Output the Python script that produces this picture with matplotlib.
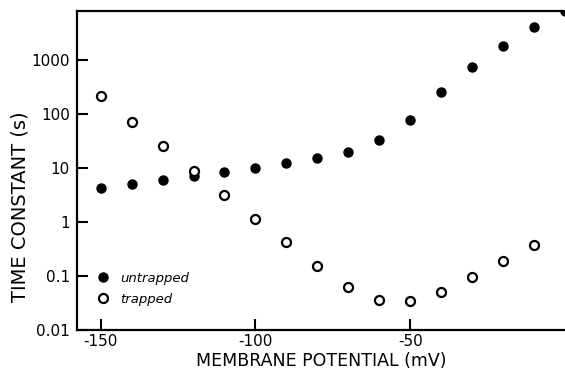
import numpy as np
import matplotlib.pyplot as plt
from matplotlib.ticker import FixedLocator, NullLocator

# membrane potential (mV)
v_untrapped = [-150, -140, -130, -120, -110, -100, -90, -80, -70, -60, -50, -40, -30, -20, -10, 0]
tau_untrapped = [4.3, 5.0, 6.1, 7.1, 8.4, 10.1, 12.5, 15, 20, 33, 78, 250, 740, 1850, 4000, 8000]

v_trapped = [-150, -140, -130, -120, -110, -100, -90, -80, -70, -60, -50, -40, -30, -20, -10]
tau_trapped = [215, 70, 25, 8.7, 3.1, 1.15, 0.42, 0.15, 0.063, 0.036, 0.034, 0.051, 0.095, 0.19, 0.37]

y_ticks = [0.01, 0.1, 1, 10, 100, 1000]
y_labels = ['0.01', '0.1', '1', '10', '100', '1000']
x_ticks = [-150, -100, -50]
x_labels = ['-150', '-100', '-50']

plt.rcParams['font.family'] = ['DejaVu Sans']

fig = plt.figure(figsize=(5.65, 3.72), dpi=100)
ax = fig.add_axes([0.136, 0.113, 0.864, 0.857])

ax.plot(v_untrapped, tau_untrapped, 'o', color='black', markersize=6.5,
        linestyle='none', label='untrapped', clip_on=True)
ax.plot(v_trapped, tau_trapped, 'o', markerfacecolor='white', markeredgecolor='black',
        markeredgewidth=1.6, markersize=6.5, linestyle='none', label='trapped')

ax.set_yscale('log')
ax.set_xlim(-157.7, 0)
ax.set_ylim(0.01, 8000)
ax.yaxis.set_major_locator(FixedLocator(y_ticks))
ax.yaxis.set_minor_locator(NullLocator())
ax.set_yticklabels(y_labels)
ax.set_xticks(x_ticks)
ax.set_xticklabels(x_labels)
ax.tick_params(direction='in', length=8, width=1.5, labelsize=11)
ax.tick_params(axis='x', pad=3)
ax.tick_params(axis='y', pad=5)

for side in ['left', 'bottom', 'top']:
    ax.spines[side].set_linewidth(1.6)
ax.spines['right'].set_visible(False)

ax.set_xlabel('MEMBRANE POTENTIAL (mV)', fontsize=12.5, labelpad=2)
ax.set_ylabel('TIME CONSTANT (s)', fontsize=14)
ax.yaxis.set_label_coords(-0.098, 0.386)

leg = ax.legend(loc='lower left', bbox_to_anchor=(0.03, 0.06), frameon=False,
                handletextpad=0.8, borderaxespad=0.0, labelspacing=0.6,
                prop={'style': 'italic', 'size': 9.5}, handlelength=1.0)

plt.savefig('out.png', dpi=100)
